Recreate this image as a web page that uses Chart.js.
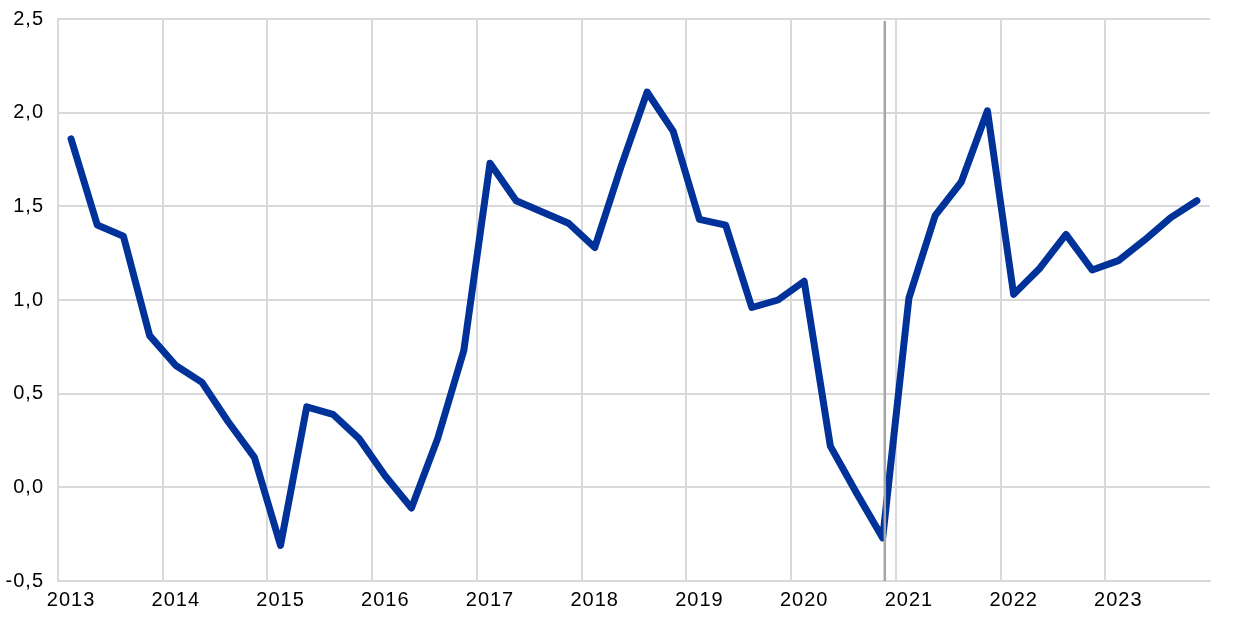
<!DOCTYPE html>
<html>
<head>
<meta charset="utf-8">
<script src="https://cdn.jsdelivr.net/npm/chart.js@4/dist/chart.umd.min.js"></script>
<style>
  html, body { margin: 0; padding: 0; background: #fff; }
  #wrap { width: 1240px; height: 626px; }
</style>
</head>
<body>
<div id="wrap"><canvas id="chart" width="1240" height="626"></canvas></div>
<script>
// --- Data ---
const years = ['2013','2014','2015','2016','2017','2018','2019','2020','2021','2022','2023'];
const quarters = ['Q1','Q2','Q3','Q4'];
const labels = years.flatMap(y => quarters.map(q => y + ' ' + q));
const values = [
  1.86, 1.40, 1.34, 0.81,
  0.65, 0.56, 0.35, 0.16,
  -0.31, 0.43, 0.39, 0.26,
  0.06, -0.11, 0.26, 0.73,
  1.73, 1.53, 1.47, 1.41,
  1.28, 1.71, 2.11, 1.90,
  1.43, 1.40, 0.96, 1.00,
  1.10, 0.22, -0.03, -0.27,
  1.01, 1.45, 1.63, 2.01,
  1.03, 1.17, 1.35, 1.16,
  1.21, 1.32, 1.44, 1.53
];
const markerAt = 31.08; // vertical marker just after 2020 Q4

const gridColor = '#d9d9d9';
const tickFont = { family: 'Liberation Sans, Arial', size: 20 };

// vertical grey marker drawn over the line
const markerLine = {
  id: 'markerLine',
  afterDatasetsDraw(chart) {
    const { ctx, chartArea, scales } = chart;
    const x = scales.x.getPixelForValue(markerAt);
    ctx.save();
    ctx.strokeStyle = '#a6a6a6';
    ctx.lineWidth = 2.5;
    ctx.beginPath();
    ctx.moveTo(x, chartArea.top + 2);
    ctx.lineTo(x, chartArea.bottom);
    ctx.stroke();
    ctx.restore();
  }
};

// wider letter spacing like the original labels
const spacing = {
  id: 'spacing',
  beforeDraw(chart) { chart.ctx.letterSpacing = '1px'; }
};

new Chart(document.getElementById('chart'), {
  type: 'line',
  data: {
    labels,
    datasets: [{
      data: values,
      borderColor: '#003299',
      borderWidth: 7,
      pointRadius: 0,
      tension: 0,
      borderCapStyle: 'round',
      borderJoinStyle: 'round'
    }]
  },
  options: {
    responsive: false,
    animation: false,
    layout: { padding: { top: 19, right: 30, left: 0, bottom: 0 } },
    plugins: { legend: { display: false }, tooltip: { enabled: false } },
    scales: {
      x: {
        offset: true,
        grid: {
          offset: true,
          drawTicks: false,
          lineWidth: 2,
          color: c => (c.index % 4 === 0 ? gridColor : 'rgba(0,0,0,0)')
        },
        border: { color: gridColor, width: 2 },
        ticks: {
          autoSkip: false,
          maxRotation: 0,
          padding: 7,
          color: '#000',
          font: tickFont,
          callback: (v, i) => (i % 4 === 0 ? years[i / 4] : '')
        },
        afterFit: s => { s.height = 45; }
      },
      y: {
        min: -0.5,
        max: 2.5,
        ticks: {
          stepSize: 0.5,
          padding: 14,
          color: '#000',
          font: tickFont,
          callback: v => v.toFixed(1).replace('.', ',')
        },
        grid: { color: gridColor, lineWidth: 2, drawTicks: false },
        border: { color: gridColor, width: 2 },
        afterFit: s => { s.width = 58; s.paddingTop = 0; s.paddingBottom = 0; }
      }
    }
  },
  plugins: [spacing, markerLine]
});
</script>
</body>
</html>
